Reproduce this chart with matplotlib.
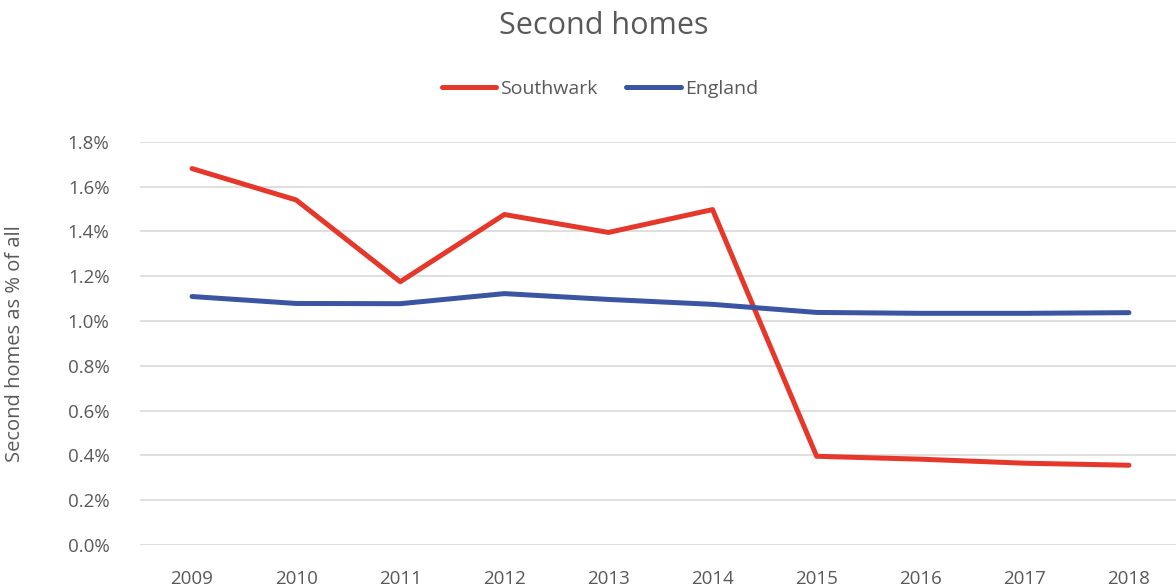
import matplotlib.pyplot as plt
from matplotlib.ticker import FuncFormatter

years = [2009, 2010, 2011, 2012, 2013, 2014, 2015, 2016, 2017, 2018]
southwark = [1.68, 1.54, 1.175, 1.475, 1.395, 1.497, 0.396, 0.383, 0.365, 0.356]
england = [1.109, 1.078, 1.077, 1.122, 1.096, 1.074, 1.038, 1.034, 1.034, 1.037]

grey = '#595959'
plt.rcParams['font.family'] = ['Open Sans', 'DejaVu Sans']

fig = plt.figure(figsize=(11.76, 5.88), dpi=100)
ax = fig.add_axes([140 / 1176, 43 / 588, 1041 / 1176, 403.3 / 588])

x = list(range(len(years)))
ax.plot(x, southwark, color='#E5382B', lw=3.6, solid_capstyle='round', label='Southwark')
ax.plot(x, england, color='#3B55A3', lw=3.6, solid_capstyle='round', label='England')

ax.set_xlim(-0.5, len(years) - 0.5)
ax.set_ylim(0, 1.8)
ax.set_yticks([i * 0.2 for i in range(10)])
ax.yaxis.set_major_formatter(FuncFormatter(lambda v, p: f'{v:.1f}%'))
ax.set_xticks(x)
ax.set_xticklabels([str(y) for y in years])
ax.grid(axis='y', color='#D9D9D9', lw=1.2)
ax.set_axisbelow(True)
for s in ax.spines.values():
    s.set_visible(False)
ax.tick_params(length=0, colors=grey, labelsize=13.5)
ax.tick_params(axis='y', pad=22)
ax.tick_params(axis='x', pad=18)
ax.set_ylabel('Second homes as % of all', color=grey, fontsize=14.5)
ax.yaxis.set_label_coords(-0.11, 0.5)

fig.text(0.513, 0.955, 'Second homes', ha='center', va='center', color=grey, fontsize=22)
fig.legend(loc='center', bbox_to_anchor=(0.51, 0.849), ncol=2, frameon=False,
           fontsize=14, labelcolor=grey, handlelength=2.8, handletextpad=0.2,
           columnspacing=1.5)

fig.savefig('out.png', dpi=100)
